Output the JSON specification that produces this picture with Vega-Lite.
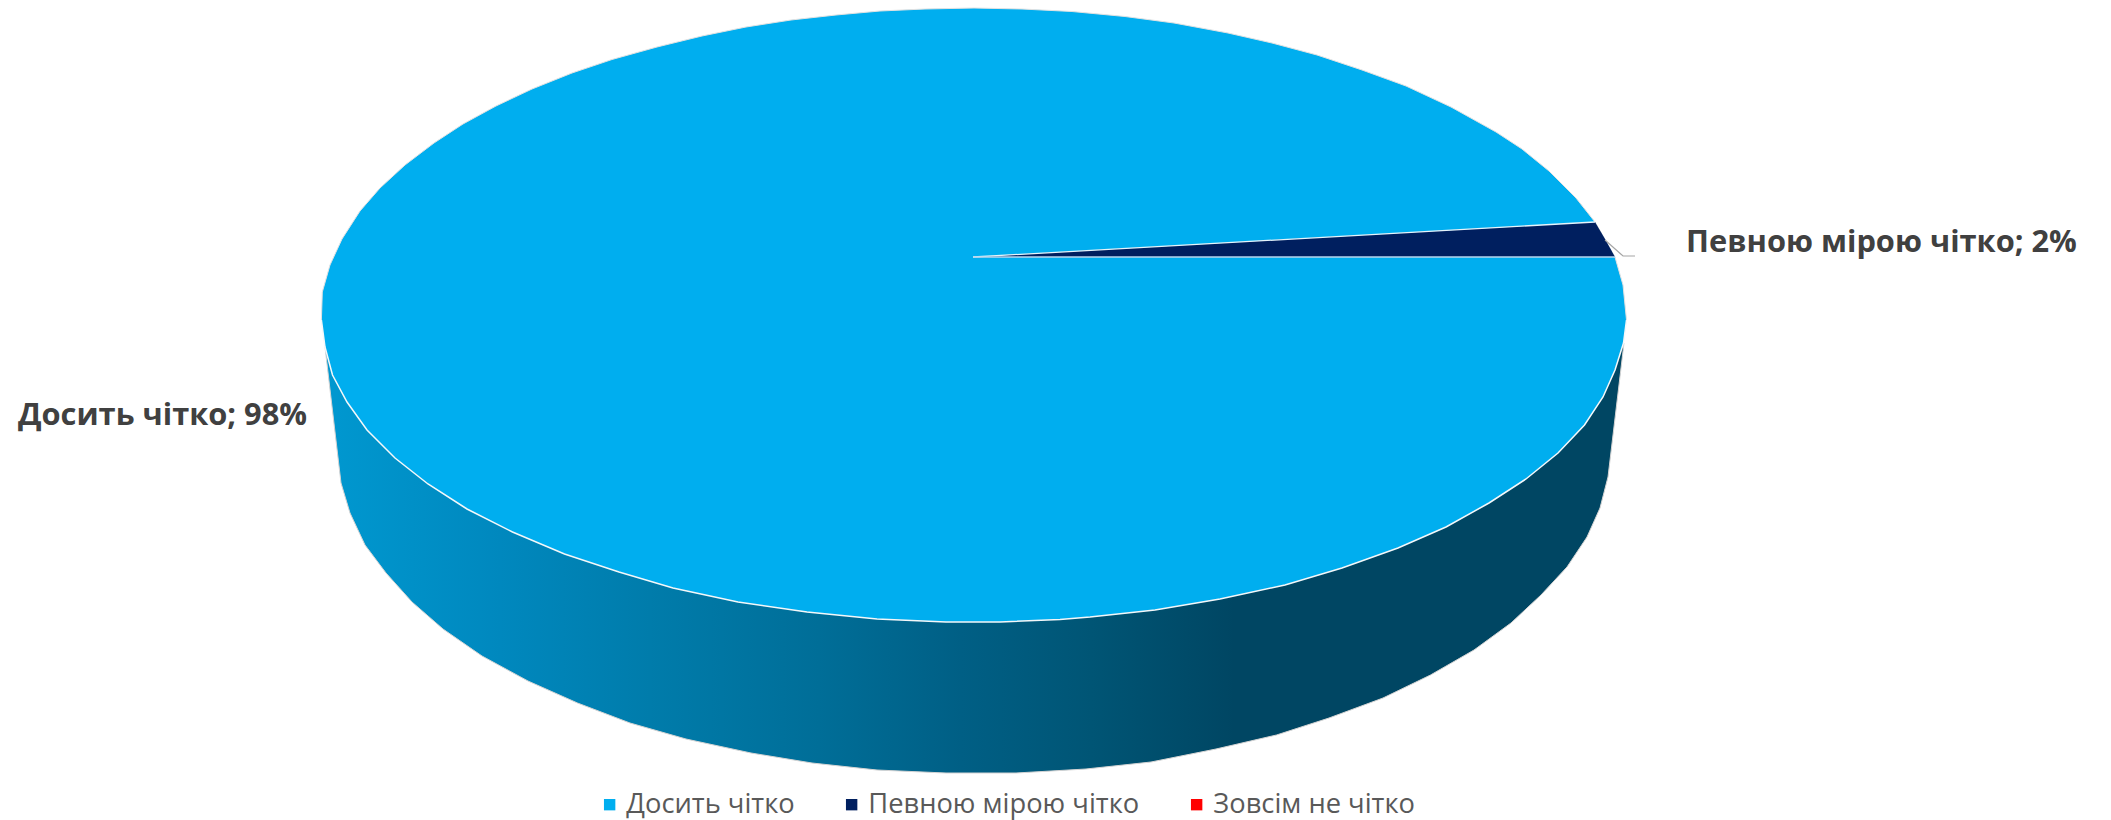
{
"$schema":"https://vega.github.io/schema/vega-lite/v6.json",
"width":2111,"height":820,"padding":0,"autosize":{"type":"none"},
"background":"white","view":{"stroke":null},
"datasets":{
"side":[{"x":325,"y":347},{"x":341,"y":483},{"x":350,"y":513},{"x":365,"y":545},{"x":386,"y":573},{"x":412,"y":602},{"x":443,"y":629},{"x":482,"y":656},{"x":528,"y":681},{"x":577.5,"y":703},{"x":630,"y":723},{"x":686,"y":739},{"x":751,"y":753},{"x":812,"y":763},{"x":877,"y":770},{"x":946,"y":773},{"x":1016,"y":773},{"x":1086,"y":769},{"x":1151,"y":762},{"x":1216,"y":749},{"x":1276.5,"y":735},{"x":1329,"y":718},{"x":1383,"y":698},{"x":1430.5,"y":675},{"x":1474,"y":650},{"x":1511,"y":623},{"x":1541,"y":595},{"x":1567,"y":567},{"x":1587,"y":537},{"x":1600,"y":508},{"x":1608,"y":477},{"x":1624,"y":343}],
"face":[
{"category":"Досить чітко","half":"upper","x":321.4,"y":320},{"category":"Досить чітко","half":"upper","x":322.3,"y":292},{"category":"Досить чітко","half":"upper","x":330,"y":265},{"category":"Досить чітко","half":"upper","x":342,"y":239},{"category":"Досить чітко","half":"upper","x":360,"y":211},{"category":"Досить чітко","half":"upper","x":380,"y":188},{"category":"Досить чітко","half":"upper","x":405,"y":165},{"category":"Досить чітко","half":"upper","x":434,"y":143},{"category":"Досить чітко","half":"upper","x":463,"y":124},{"category":"Досить чітко","half":"upper","x":496,"y":106},{"category":"Досить чітко","half":"upper","x":532,"y":89},{"category":"Досить чітко","half":"upper","x":572,"y":73},{"category":"Досить чітко","half":"upper","x":612,"y":59.5},{"category":"Досить чітко","half":"upper","x":657,"y":47},{"category":"Досить чітко","half":"upper","x":702,"y":36},{"category":"Досить чітко","half":"upper","x":746,"y":27},{"category":"Досить чітко","half":"upper","x":791,"y":20},{"category":"Досить чітко","half":"upper","x":836,"y":15},{"category":"Досить чітко","half":"upper","x":880,"y":11},{"category":"Досить чітко","half":"upper","x":925,"y":9},{"category":"Досить чітко","half":"upper","x":974,"y":8},{"category":"Досить чітко","half":"upper","x":1022,"y":9},{"category":"Досить чітко","half":"upper","x":1072,"y":11.5},{"category":"Досить чітко","half":"upper","x":1125,"y":16.5},{"category":"Досить чітко","half":"upper","x":1174,"y":23},{"category":"Досить чітко","half":"upper","x":1228,"y":33},{"category":"Досить чітко","half":"upper","x":1272,"y":43},{"category":"Досить чітко","half":"upper","x":1317,"y":55},{"category":"Досить чітко","half":"upper","x":1362,"y":70},{"category":"Досить чітко","half":"upper","x":1406,"y":86},{"category":"Досить чітко","half":"upper","x":1451,"y":107},{"category":"Досить чітко","half":"upper","x":1496,"y":132},{"category":"Досить чітко","half":"upper","x":1522,"y":149},{"category":"Досить чітко","half":"upper","x":1549,"y":171},{"category":"Досить чітко","half":"upper","x":1576,"y":198},{"category":"Досить чітко","half":"upper","x":1595,"y":222},{"category":"Досить чітко","half":"upper","x":1615,"y":257},{"category":"Досить чітко","half":"upper","x":1623,"y":285},{"category":"Досить чітко","half":"upper","x":1626.5,"y":320},
{"category":"Досить чітко","half":"lower","x":321.4,"y":320},{"category":"Досить чітко","half":"lower","x":325,"y":347},{"category":"Досить чітко","half":"lower","x":332.5,"y":375},{"category":"Досить чітко","half":"lower","x":347,"y":402},{"category":"Досить чітко","half":"lower","x":367,"y":430},{"category":"Досить чітко","half":"lower","x":395,"y":458},{"category":"Досить чітко","half":"lower","x":428,"y":484},{"category":"Досить чітко","half":"lower","x":467,"y":509},{"category":"Досить чітко","half":"lower","x":512.5,"y":532},{"category":"Досить чітко","half":"lower","x":564.5,"y":554},{"category":"Досить чітко","half":"lower","x":619,"y":572},{"category":"Досить чітко","half":"lower","x":673,"y":588},{"category":"Досить чітко","half":"lower","x":738,"y":602},{"category":"Досить чітко","half":"lower","x":807,"y":612},{"category":"Досить чітко","half":"lower","x":877,"y":619},{"category":"Досить чітко","half":"lower","x":946,"y":622},{"category":"Досить чітко","half":"lower","x":1000,"y":622},{"category":"Досить чітко","half":"lower","x":1060,"y":619.5},{"category":"Досить чітко","half":"lower","x":1090,"y":617},{"category":"Досить чітко","half":"lower","x":1155,"y":610},{"category":"Досить чітко","half":"lower","x":1220,"y":599},{"category":"Досить чітко","half":"lower","x":1285,"y":585},{"category":"Досить чітко","half":"lower","x":1342,"y":568},{"category":"Досить чітко","half":"lower","x":1398,"y":548},{"category":"Досить чітко","half":"lower","x":1446,"y":527},{"category":"Досить чітко","half":"lower","x":1489,"y":503},{"category":"Досить чітко","half":"lower","x":1526,"y":479},{"category":"Досить чітко","half":"lower","x":1558,"y":453},{"category":"Досить чітко","half":"lower","x":1584.5,"y":425},{"category":"Досить чітко","half":"lower","x":1603,"y":397},{"category":"Досить чітко","half":"lower","x":1615,"y":370},{"category":"Досить чітко","half":"lower","x":1623.5,"y":343},{"category":"Досить чітко","half":"lower","x":1626.5,"y":320}],
"wedge":[{"x":973,"y":257,"y2":257,"category":"Певною мірою чітко"},{"x":1595,"y":222,"y2":257,"category":"Певною мірою чітко"},{"x":1605,"y":239,"y2":257,"category":"Певною мірою чітко"},{"x":1615,"y":257,"y2":257,"category":"Певною мірою чітко"}],
"leader":[{"x":1605,"y":240},{"x":1623,"y":256},{"x":1635,"y":256}],
"wedgeTop":[{"x":973,"y":257},{"x":1595,"y":222}],
"wedgeBottom":[{"x":973,"y":257},{"x":1615,"y":257}],
"labels":[{"x":1686,"y":252,"label":"Певною мірою чітко; 2%"},{"x":18,"y":425,"label":"Досить чітко; 98%"}]
},
"layer":[
{"data":{"name":"side"},"mark":{"type":"area","fill":{"gradient":"linear","x1":0,"x2":1,"y1":0,"y2":0,"stops":[{"offset":0,"color":"#0098D0"},{"offset":0.135,"color":"#0088BE"},{"offset":0.25,"color":"#007CAB"},{"offset":0.38,"color":"#006E98"},{"offset":0.49,"color":"#005F85"},{"offset":0.59,"color":"#005575"},{"offset":0.7,"color":"#004663"},{"offset":1,"color":"#004663"}]}},
"encoding":{"x":{"field":"x","type":"quantitative","scale":{"domain":[0,2111],"nice":false,"zero":false},"axis":null},"y":{"field":"y","type":"quantitative","scale":{"domain":[820,0],"nice":false,"zero":false},"axis":null},"y2":{"datum":320}}},
{"data":{"name":"side"},"mark":{"type":"line","stroke":"#d4d4d4","strokeWidth":1},"encoding":{"x":{"field":"x","type":"quantitative"},"y":{"field":"y","type":"quantitative"}}},
{"data":{"name":"face"},"mark":{"type":"area"},
"encoding":{"x":{"field":"x","type":"quantitative"},"y":{"field":"y","type":"quantitative"},"y2":{"datum":320},"detail":{"field":"half"},
"color":{"field":"category","type":"nominal","scale":{"domain":["Досить чітко","Певною мірою чітко","Зовсім не чітко"],"range":["#00AEEF","#001F5F","#FF0000"]},
"legend":{"title":null,"orient":"none","legendX":596,"legendY":791,"direction":"horizontal","symbolType":"square","symbolSize":130,"symbolStrokeWidth":0,"labelFont":"Open Sans","labelFontSize":27.3,"labelColor":"#595959","labelLimit":400,"columnPadding":43,"padding":0,"labelOffset":3}}}},
{"data":{"name":"face"},"transform":[{"filter":"datum.half==='upper'"}],"mark":{"type":"line","stroke":"#e2e2e2","strokeWidth":1},"encoding":{"x":{"field":"x","type":"quantitative"},"y":{"field":"y","type":"quantitative"}}},
{"data":{"name":"face"},"transform":[{"filter":"datum.half==='lower'"}],"mark":{"type":"line","stroke":"#f4f8fa","strokeWidth":1.5},"encoding":{"x":{"field":"x","type":"quantitative"},"y":{"field":"y","type":"quantitative"}}},
{"data":{"name":"wedge"},"mark":{"type":"area"},"encoding":{"x":{"field":"x","type":"quantitative"},"y":{"field":"y","type":"quantitative"},"y2":{"field":"y2"},"color":{"field":"category","type":"nominal"}}},
{"data":{"name":"wedgeTop"},"mark":{"type":"line","stroke":"#e6f4fb","strokeWidth":1.3},"encoding":{"x":{"field":"x","type":"quantitative"},"y":{"field":"y","type":"quantitative"}}},
{"data":{"name":"wedgeBottom"},"mark":{"type":"line","stroke":"#b6d6ee","strokeWidth":1.5},"encoding":{"x":{"field":"x","type":"quantitative"},"y":{"field":"y","type":"quantitative"}}},
{"data":{"name":"leader"},"mark":{"type":"line","stroke":"#a6a6a6","strokeWidth":1.2},"encoding":{"x":{"field":"x","type":"quantitative"},"y":{"field":"y","type":"quantitative"}}},
{"data":{"name":"labels"},"mark":{"type":"text","font":"Open Sans","fontWeight":"bold","fontSize":30.8,"color":"#404040","align":"left","baseline":"alphabetic"},"encoding":{"x":{"field":"x","type":"quantitative"},"y":{"field":"y","type":"quantitative"},"text":{"field":"label"}}}
]
}
